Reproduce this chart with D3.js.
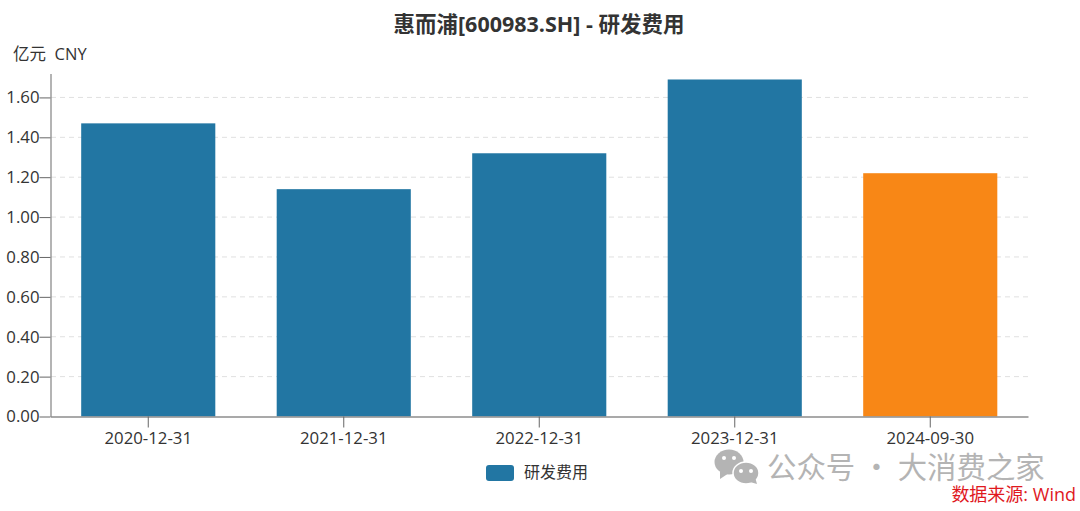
<!DOCTYPE html>
<html>
<head>
<meta charset="utf-8">
<script src="https://d3js.org/d3.v7.min.js"></script>
<style>
    html, body { margin: 0; padding: 0; background: #fff; }
    svg { display: block; }
    text { font-family: "Open Sans", "Noto Sans CJK SC", sans-serif; }
</style>
</head>
<body>
<script>
//chart data
var dates = ["2020-12-31", "2021-12-31", "2022-12-31", "2023-12-31", "2024-09-30"];
var values = [1.47, 1.14, 1.32, 1.69, 1.22];
var barColors = ["#2276a3", "#2276a3", "#2276a3", "#2276a3", "#f88716"];
var yTicks = [0, 0.2, 0.4, 0.6, 0.8, 1.0, 1.2, 1.4, 1.6];
var titleText = "惠而浦[600983.SH] - 研发费用";
var unitText = "亿元  CNY";
var legendText = "研发费用";
var watermarkText = "公众号 · 大消费之家";
var sourceText = "数据来源: Wind";

//begin script when window loads
window.onload = setChart();

function setChart(){

    //frame dimensions
    var width = 1080,
        height = 511;

    var svg = d3.select("body")
        .append("svg")
        .attr("width", width)
        .attr("height", height);

    //scales
    var x = d3.scaleBand()
        .domain(dates)
        .range([50.5, 1028])
        .paddingInner(0.314)
        .paddingOuter(0.157);

    var y = d3.scaleLinear()
        .domain([0, 1.72])
        .range([416.5, 73.5]);

    //gridlines
    svg.selectAll(".grid")
        .data(yTicks.slice(1))
        .enter()
        .append("line")
        .attr("class", "grid")
        .attr("x1", 51)
        .attr("x2", 1028)
        .attr("y1", function(d){ return y(d); })
        .attr("y2", function(d){ return y(d); })
        .attr("stroke", "#e0e0e0")
        .attr("stroke-dasharray", "5,4");

    //bars
    svg.selectAll(".bar")
        .data(values)
        .enter()
        .append("rect")
        .attr("class", "bar")
        .attr("x", function(d, i){ return x(dates[i]); })
        .attr("width", x.bandwidth())
        .attr("y", function(d){ return y(d); })
        .attr("height", function(d){ return y(0) - y(d); })
        .attr("fill", function(d, i){ return barColors[i]; });

    //y axis
    var yAxis = svg.append("g")
        .attr("transform", "translate(50.5,0)")
        .call(d3.axisLeft(y)
            .tickValues(yTicks)
            .tickSize(11)
            .tickSizeOuter(0)
            .tickPadding(0)
            .tickFormat(d3.format(".2f")));

    //x axis
    var xAxis = svg.append("g")
        .attr("transform", "translate(0,416.5)")
        .call(d3.axisBottom(x)
            .tickSize(11)
            .tickSizeOuter(0)
            .tickPadding(5));

    [yAxis, xAxis].forEach(function(axis){
        axis.select(".domain").attr("stroke", "#8c8c8c").attr("stroke-width", 1.3);
        axis.selectAll(".tick line").attr("stroke", "#666");
        axis.selectAll(".tick text")
            .attr("fill", "#333")
            .style("font-family", "'Open Sans', sans-serif")
            .style("font-size", "16.8px");
    });

    //title and unit
    svg.append("text")
        .attr("x", 539)
        .attr("y", 32)
        .attr("text-anchor", "middle")
        .attr("fill", "#333")
        .style("font-size", "21.5px")
        .style("font-weight", "bold")
        .text(titleText);

    svg.append("text")
        .attr("x", 13)
        .attr("y", 60)
        .attr("fill", "#333")
        .style("white-space", "pre")
        .style("font-size", "16.5px")
        .text(unitText);

    //legend
    svg.append("rect")
        .attr("x", 486)
        .attr("y", 465)
        .attr("width", 28)
        .attr("height", 16)
        .attr("rx", 3)
        .attr("fill", barColors[0]);

    svg.append("text")
        .attr("x", 524)
        .attr("y", 478)
        .attr("fill", "#333")
        .style("font-size", "16px")
        .text(legendText);

    //watermark icon
    var icon = svg.append("g").attr("fill", "#b4b4b4");
    icon.append("ellipse").attr("cx", 729).attr("cy", 462).attr("rx", 14.5).attr("ry", 12.5);
    icon.append("path").attr("d", "M720 471 L720 479 L729 473 Z");
    icon.append("ellipse").attr("cx", 746).attr("cy", 473).attr("rx", 13).attr("ry", 11)
        .attr("stroke", "#fff").attr("stroke-width", 1.5);
    icon.append("path").attr("d", "M750 482 L757 484 L755 477 Z");
    var eyes = [[724, 458], [734, 458], [741, 471], [751, 471]];
    icon.selectAll(".eye")
        .data(eyes)
        .enter()
        .append("circle")
        .attr("class", "eye")
        .attr("cx", function(d){ return d[0]; })
        .attr("cy", function(d){ return d[1]; })
        .attr("r", 2)
        .attr("fill", "#fff");

    //watermark text
    svg.append("text")
        .attr("x", 767)
        .attr("y", 478)
        .attr("fill", "#b4b4b4")
        .style("font-family", "'Noto Sans CJK SC', sans-serif")
        .style("font-size", "29.4px")
        .text(watermarkText);

    //source note
    svg.append("text")
        .attr("x", 1076)
        .attr("y", 501)
        .attr("text-anchor", "end")
        .attr("fill", "#e0191e")
        .style("font-size", "18px")
        .text(sourceText);
};
</script>
</body>
</html>
